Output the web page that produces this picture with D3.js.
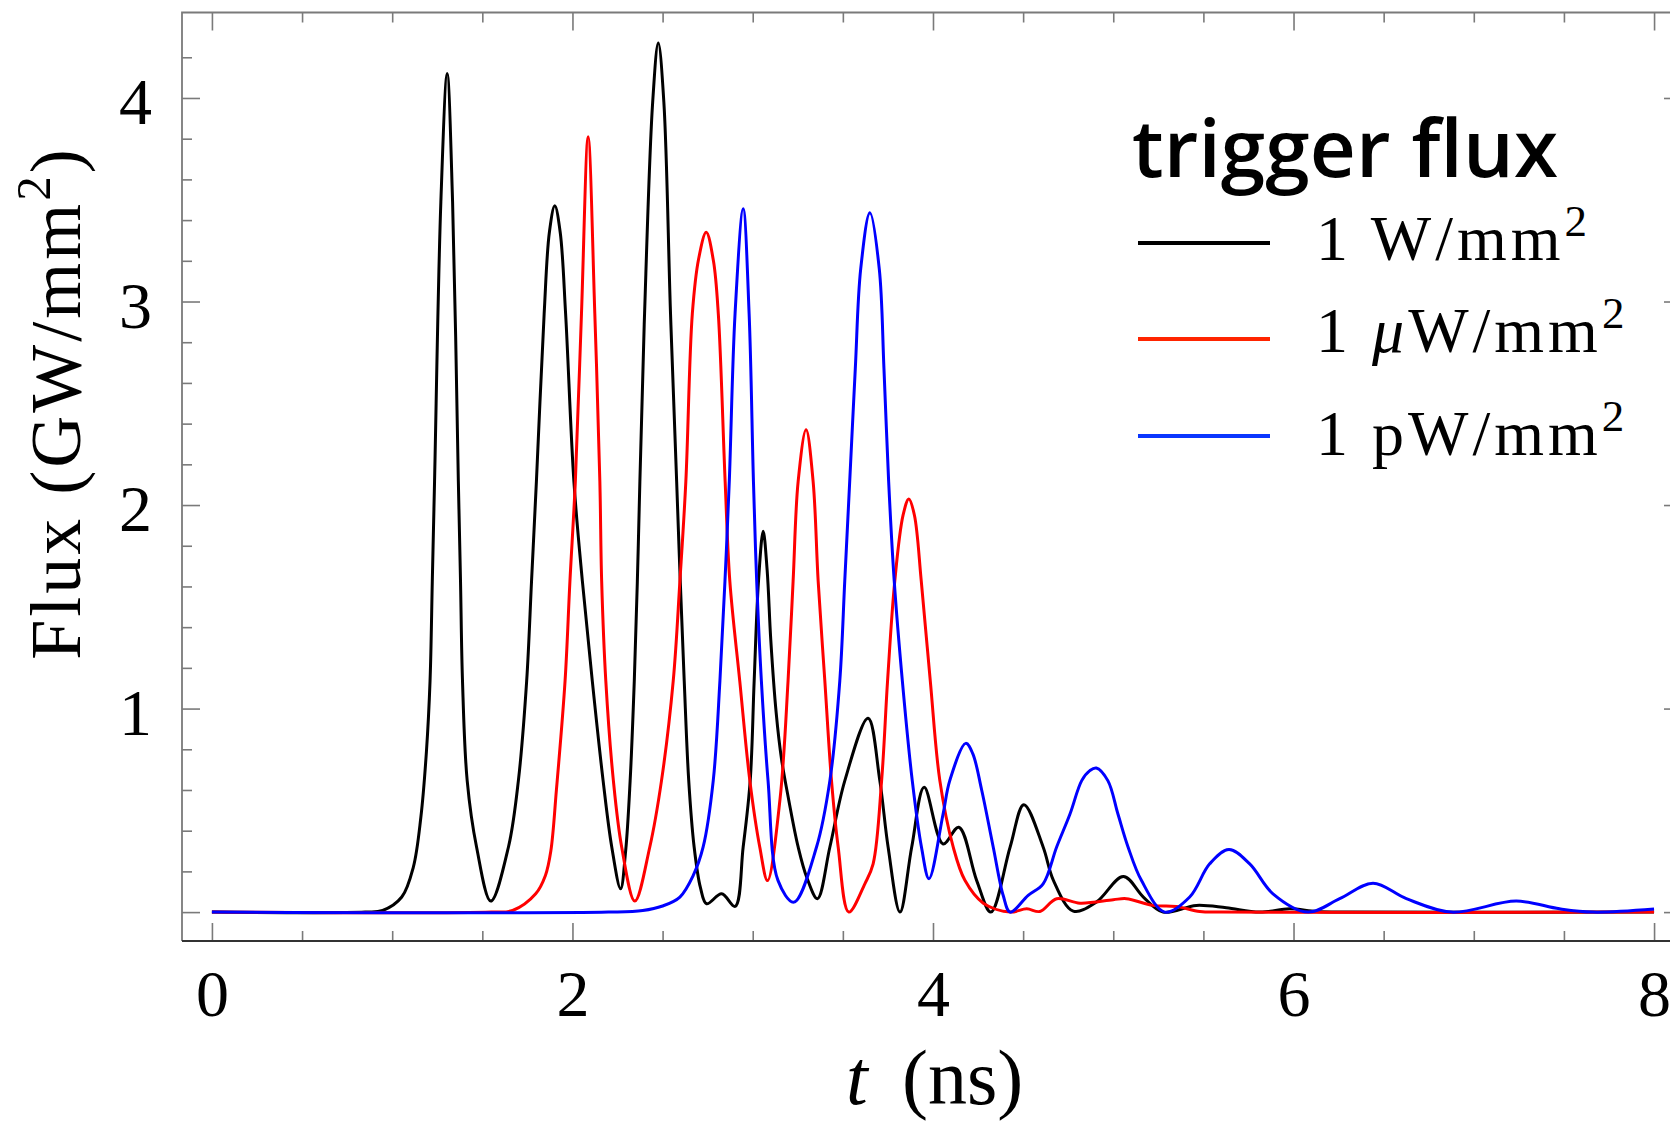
<!DOCTYPE html>
<html>
<head>
<meta charset="utf-8">
<script src="https://cdn.jsdelivr.net/npm/d3@7"></script>
<style>
  html, body { margin: 0; padding: 0; background: #fff; }
  svg { display: block; }
  .serif { font-family: "Liberation Serif", "DejaVu Serif", serif; }
</style>
</head>
<body>
<div id="chart"></div>
<script>
// pulse trains: [t (ns), flux (GW/mm^2)]
const black = [
  [0,0],[0.85,0],[0.947,0.008],[1.053,0.074],[1.117,0.22],[1.159,0.466],[1.19,0.79],
  [1.21,1.136],[1.2225,1.626],[1.235,2.116],[1.27,3.49],[1.305,4.12],[1.335,3.49],
  [1.367,2.116],[1.379,1.626],[1.39,1.136],[1.416,0.646],[1.468,0.32],[1.547,0.054],
  [1.645,0.32],[1.70,0.646],[1.746,1.136],[1.773,1.626],[1.80,2.116],[1.843,2.94],
  [1.872,3.34],[1.902,3.47],[1.932,3.34],[1.962,2.94],[2.008,2.116],[2.055,1.626],
  [2.11,1.136],[2.17,0.646],[2.218,0.32],[2.267,0.115],[2.295,0.3],[2.32,0.646],
  [2.343,1.136],[2.36,1.626],[2.374,2.116],[2.40,2.94],[2.445,3.98],[2.476,4.27],
  [2.507,3.98],[2.544,2.94],[2.578,2.116],[2.598,1.626],[2.62,1.136],[2.645,0.646],
  [2.675,0.32],[2.71,0.12],[2.744,0.041],[2.828,0.09],[2.902,0.028],[2.947,0.32],
  [2.986,0.646],[3.008,1.136],[3.032,1.626],[3.058,1.871],[3.08,1.68],[3.10,1.34],
  [3.13,0.98],[3.16,0.75],[3.20,0.55],[3.252,0.32],[3.30,0.17],[3.359,0.066],
  [3.428,0.32],[3.511,0.646],[3.64,0.953],[3.705,0.646],[3.751,0.32],[3.817,0.0],
  [3.882,0.32],[3.951,0.613],[4.056,0.335],[4.143,0.417],[4.242,0.156],[4.321,0.0],
  [4.428,0.32],[4.504,0.528],[4.611,0.32],[4.668,0.156],[4.778,0.005],[4.906,0.049],
  [5.056,0.175],[5.167,0.074],[5.276,0.0],[5.461,0.033],[5.627,0.021],[5.812,0.0],
  [5.979,0.016],[6.127,0.003],[6.3,0],[8,0]
];
const red = [
  [0,0],[1.55,0],[1.668,0.008],[1.796,0.09],[1.85,0.18],[1.88,0.3],[1.911,0.6],
  [1.959,1.136],[1.986,1.626],[2.016,2.116],[2.05,2.94],[2.087,3.81],[2.124,2.94],
  [2.152,2.116],[2.162,1.626],[2.185,1.136],[2.227,0.646],[2.273,0.32],[2.346,0.054],
  [2.429,0.32],[2.494,0.646],[2.559,1.136],[2.596,1.626],[2.629,2.116],[2.665,2.94],
  [2.70,3.21],[2.742,3.34],[2.782,3.2],[2.809,2.94],[2.847,2.116],[2.873,1.626],
  [2.928,1.136],[2.984,0.646],[3.039,0.32],[3.082,0.155],[3.152,0.56],[3.196,1.136],
  [3.224,1.626],[3.252,2.116],[3.296,2.37],[3.335,2.116],[3.363,1.626],[3.40,1.136],
  [3.437,0.646],[3.474,0.32],[3.533,0.0],[3.622,0.139],[3.668,0.237],[3.715,0.646],
  [3.748,1.136],[3.788,1.626],[3.834,1.95],[3.866,2.03],[3.897,1.95],[3.935,1.626],
  [3.985,1.136],[4.038,0.646],[4.112,0.32],[4.177,0.156],[4.279,0.044],[4.428,0.0],
  [4.52,0.016],[4.593,0.003],[4.686,0.066],[4.816,0.044],[5.0,0.061],[5.073,0.066],
  [5.22,0.033],[5.35,0.028],[5.48,0.003],[5.6,0],[8,0]
];
const blue = [
  [0,0],[2.2,0],[2.39,0.008],[2.5,0.03],[2.596,0.074],[2.67,0.18],[2.725,0.32],
  [2.781,0.646],[2.818,1.136],[2.846,1.626],[2.87,2.116],[2.902,2.94],[2.947,3.456],
  [2.98,2.94],[3.004,2.116],[3.022,1.626],[3.048,1.136],[3.085,0.646],[3.14,0.156],
  [3.228,0.049],[3.354,0.32],[3.428,0.646],[3.483,1.136],[3.5105,1.626],[3.538,2.116],
  [3.569,2.67],[3.599,3.16],[3.65,3.436],[3.702,3.16],[3.728,2.67],[3.754,2.116],
  [3.785,1.626],[3.83,1.136],[3.885,0.646],[3.936,0.32],[3.978,0.164],[4.056,0.482],
  [4.093,0.646],[4.182,0.829],[4.22,0.78],[4.27,0.6],[4.334,0.32],[4.39,0.08],
  [4.428,0.0],[4.528,0.082],[4.611,0.139],[4.686,0.32],[4.76,0.482],[4.825,0.646],
  [4.87,0.695],[4.906,0.708],[4.97,0.646],[5.026,0.482],[5.082,0.32],[5.156,0.156],
  [5.286,0.0],[5.424,0.074],[5.535,0.237],[5.642,0.307],[5.757,0.237],[5.886,0.09],
  [6.08,0.0],[6.256,0.066],[6.441,0.142],[6.626,0.066],[6.876,0.0],[7.236,0.054],
  [7.476,0.016],[7.661,0.0],[8.0,0.015]
];

const seriesNames = ["1 W/mm", "1 \u03bcW/mm", "1 pW/mm"];
const seriesColors = ["#000000", "#ff0000", "#0000ff"];
const legendColors = ["#000000", "#ff2400", "#0a36ff"];
const xTickLabels = [0, 2, 4, 6, 8];
const yTickLabels = [1, 2, 3, 4];

const W = 1670, H = 1123;
const frame = { left: 182, right: 1682, top: 12.5, bottom: 941 };

const svg = d3.select("#chart").append("svg")
  .attr("width", W).attr("height", H)
  .attr("viewBox", `0 0 ${W} ${H}`);

const x = d3.scaleLinear().domain([-0.166, 8.155]).range([frame.left, frame.right]);
const y = d3.scaleLinear().domain([-0.142, 4.42]).range([frame.bottom, frame.top]);

// curves
const line = d3.line()
  .x(d => x(d[0]))
  .y(d => y(d[1]))
  .curve(d3.curveCatmullRom.alpha(0.5));

svg.append("g")
  .selectAll("path")
  .data([black, red, blue])
  .join("path")
  .attr("fill", "none")
  .attr("stroke", (d, i) => seriesColors[i])
  .attr("stroke-width", 3)
  .attr("stroke-linejoin", "round")
  .attr("d", line);

// frame ticks, pointing inward
const tickColor = "#7a7a7a";
const xMinor = d3.range(0, 8.001, 0.5).filter(v => v % 2 !== 0);
const yMinor = d3.range(0, 4.201, 0.2).map(v => +v.toFixed(1)).filter(v => v % 1 !== 0);

function ticks(axis, transform) {
  const g = svg.append("g").attr("transform", transform).call(axis);
  g.select(".domain").remove();
  g.selectAll(".tick line").attr("stroke", tickColor).attr("stroke-width", 1.6);
  g.selectAll(".tick text").remove();
}
[[xTickLabels, 18], [xMinor, 10]].forEach(([vals, len]) => {
  ticks(d3.axisBottom(x).tickValues(vals).tickSize(-len), `translate(0,${frame.bottom})`);
  ticks(d3.axisTop(x).tickValues(vals).tickSize(-len), `translate(0,${frame.top})`);
});
[[[0].concat(yTickLabels), 18], [yMinor, 10]].forEach(([vals, len]) => {
  ticks(d3.axisLeft(y).tickValues(vals).tickSize(-len), `translate(${frame.left},0)`);
  ticks(d3.axisRight(y).tickValues(vals).tickSize(-len), `translate(${frame.right},0)`);
});

// frame
svg.append("path")
  .attr("d", `M${frame.left},${frame.bottom}V${frame.top}H${frame.right}V${frame.bottom}`)
  .attr("fill", "none").attr("stroke", tickColor).attr("stroke-width", 1.8);
svg.append("line")
  .attr("x1", frame.left).attr("x2", frame.right)
  .attr("y1", frame.bottom).attr("y2", frame.bottom)
  .attr("stroke", "#333").attr("stroke-width", 1.8);

// tick labels
const xLab = svg.append("g")
  .attr("transform", `translate(0,${frame.bottom})`)
  .call(d3.axisBottom(x).tickValues(xTickLabels).tickSize(0).tickPadding(28).tickFormat(d3.format("d")));
const yLab = svg.append("g")
  .attr("transform", `translate(${frame.left},0)`)
  .call(d3.axisLeft(y).tickValues(yTickLabels).tickSize(0).tickPadding(30).tickFormat(d3.format("d")));
[xLab, yLab].forEach(g => {
  g.select(".domain").remove();
  g.selectAll("text")
    .attr("class", "serif")
    .attr("font-family", null)
    .attr("font-size", 66)
    .attr("fill", "#000");
});
yLab.selectAll("text").attr("dy", "0.39em");

// axis titles
const xt = svg.append("text").attr("class", "serif")
  .attr("y", 1104).attr("font-size", 78).attr("fill", "#000");
xt.append("tspan").attr("x", 846).attr("font-style", "italic").text("t");
xt.append("tspan").attr("x", 902).text("(ns)");

const yt = svg.append("text").attr("class", "serif")
  .attr("transform", "translate(80,403) rotate(-90)")
  .attr("text-anchor", "middle")
  .attr("font-size", 72)
  .attr("letter-spacing", 3)
  .attr("fill", "#000");
yt.append("tspan").text("Flux (GW/mm");
yt.append("tspan").attr("font-size", 49).attr("dy", -30).text("2");
yt.append("tspan").attr("dy", 30).text(")");

// legend
const legend = svg.append("g");
legend.append("text")
  .attr("x", 1132).attr("y", 177)
  .attr("font-family", "'Open Sans', Lato, sans-serif")
  .attr("font-weight", 600)
  .attr("font-size", 80)
  .attr("textLength", 426)
  .attr("fill", "#000")
  .text("trigger flux");

const rowLineY = [243, 339, 436];
const rowTextY = [260, 352, 455];
const rows = legend.selectAll("g.row")
  .data(seriesNames)
  .join("g").attr("class", "row");
rows.append("line")
  .attr("x1", 1138).attr("x2", 1270)
  .attr("y1", (d, i) => rowLineY[i]).attr("y2", (d, i) => rowLineY[i])
  .attr("stroke", (d, i) => legendColors[i])
  .attr("stroke-width", 4);
const rowText = rows.append("text")
  .attr("class", "serif")
  .attr("x", 1316).attr("y", (d, i) => rowTextY[i])
  .attr("font-size", 64)
  .attr("letter-spacing", 4)
  .attr("fill", "#000");
rowText.each(function(d) {
  const t = d3.select(this);
  const parts = d.split("\u03bc");
  if (parts.length > 1) {
    t.append("tspan").text(parts[0]);
    t.append("tspan").attr("font-style", "italic").text("\u03bc");
    t.append("tspan").text(parts[1]);
  } else {
    t.append("tspan").text(d);
  }
  t.append("tspan").attr("font-size", 45).attr("dy", -24).text("2");
});
</script>
</body>
</html>
